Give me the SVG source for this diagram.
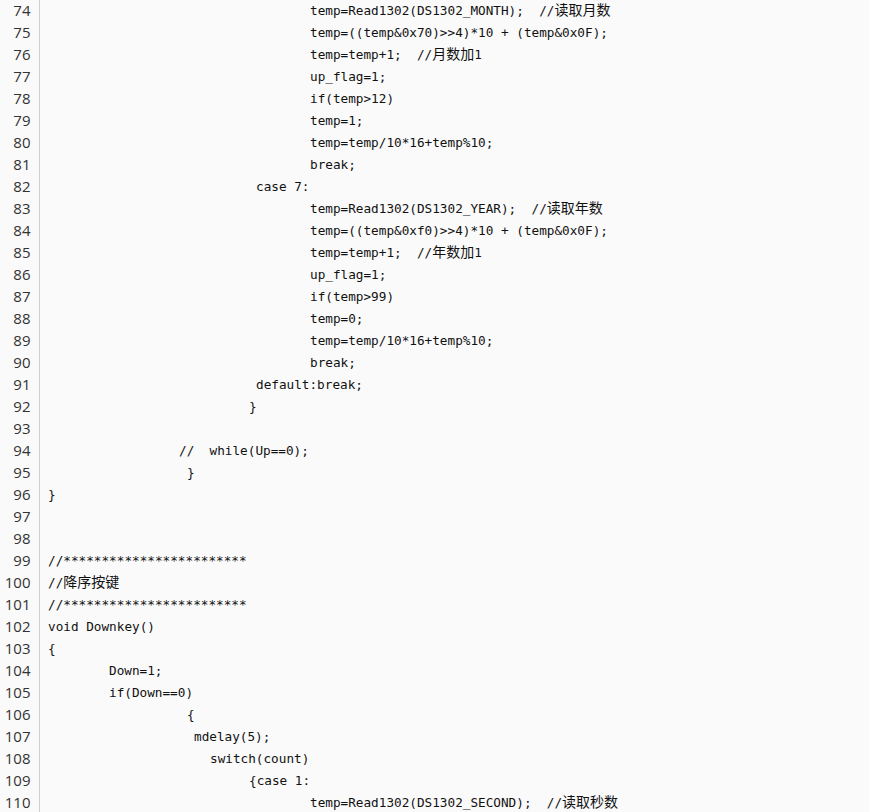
<svg xmlns="http://www.w3.org/2000/svg" width="869" height="812" viewBox="0 0 869 812">
<style>
.bg{fill:#fafafa}
.sep{stroke:#cfcfcf;stroke-width:1}
.ln{font-family:"Open Sans","Liberation Sans",sans-serif;font-size:15px;fill:#333;text-anchor:end}
.code{font-family:"DejaVu Sans Mono","Liberation Mono","Noto Sans CJK SC",monospace;font-size:12.7px;fill:#111;white-space:pre}
.cjk{font-family:"Noto Sans CJK SC",sans-serif;font-size:14px}
</style>
<rect class="bg" x="0" y="0" width="869" height="812"/>
<line class="sep" x1="39.5" y1="0" x2="39.5" y2="812"/>
<g id="line-numbers" transform="translate(0,-0.5)">
<text class="ln" x="30.5" y="16">74</text>
<text class="ln" x="30.5" y="38">75</text>
<text class="ln" x="30.5" y="60">76</text>
<text class="ln" x="30.5" y="82">77</text>
<text class="ln" x="30.5" y="104">78</text>
<text class="ln" x="30.5" y="126">79</text>
<text class="ln" x="30.5" y="148">80</text>
<text class="ln" x="30.5" y="170">81</text>
<text class="ln" x="30.5" y="192">82</text>
<text class="ln" x="30.5" y="214">83</text>
<text class="ln" x="30.5" y="236">84</text>
<text class="ln" x="30.5" y="258">85</text>
<text class="ln" x="30.5" y="280">86</text>
<text class="ln" x="30.5" y="302">87</text>
<text class="ln" x="30.5" y="324">88</text>
<text class="ln" x="30.5" y="346">89</text>
<text class="ln" x="30.5" y="368">90</text>
<text class="ln" x="30.5" y="390">91</text>
<text class="ln" x="30.5" y="412">92</text>
<text class="ln" x="30.5" y="434">93</text>
<text class="ln" x="30.5" y="456">94</text>
<text class="ln" x="30.5" y="478">95</text>
<text class="ln" x="30.5" y="500">96</text>
<text class="ln" x="30.5" y="522">97</text>
<text class="ln" x="30.5" y="544">98</text>
<text class="ln" x="30.5" y="566">99</text>
<text class="ln" x="30.5" y="588">100</text>
<text class="ln" x="30.5" y="610">101</text>
<text class="ln" x="30.5" y="632">102</text>
<text class="ln" x="30.5" y="654">103</text>
<text class="ln" x="30.5" y="676">104</text>
<text class="ln" x="30.5" y="698">105</text>
<text class="ln" x="30.5" y="720">106</text>
<text class="ln" x="30.5" y="742">107</text>
<text class="ln" x="30.5" y="764">108</text>
<text class="ln" x="30.5" y="786">109</text>
<text class="ln" x="30.5" y="808">110</text>
</g>
<g id="code" xml:space="preserve" transform="translate(0,-1)">
<text class="code" x="310" y="16">temp=Read1302(DS1302_MONTH);  //<tspan class="cjk">读取月数</tspan></text>
<text class="code" x="310" y="38">temp=((temp&amp;0x70)&gt;&gt;4)*10 + (temp&amp;0x0F);</text>
<text class="code" x="310" y="60">temp=temp+1;  //<tspan class="cjk">月数加</tspan>1</text>
<text class="code" x="310" y="82">up_flag=1;</text>
<text class="code" x="310" y="104">if(temp&gt;12)</text>
<text class="code" x="310" y="126">temp=1;</text>
<text class="code" x="310" y="148">temp=temp/10*16+temp%10;</text>
<text class="code" x="310" y="170">break;</text>
<text class="code" x="256" y="192">case 7:</text>
<text class="code" x="310" y="214">temp=Read1302(DS1302_YEAR);  //<tspan class="cjk">读取年数</tspan></text>
<text class="code" x="310" y="236">temp=((temp&amp;0xf0)&gt;&gt;4)*10 + (temp&amp;0x0F);</text>
<text class="code" x="310" y="258">temp=temp+1;  //<tspan class="cjk">年数加</tspan>1</text>
<text class="code" x="310" y="280">up_flag=1;</text>
<text class="code" x="310" y="302">if(temp&gt;99)</text>
<text class="code" x="310" y="324">temp=0;</text>
<text class="code" x="310" y="346">temp=temp/10*16+temp%10;</text>
<text class="code" x="310" y="368">break;</text>
<text class="code" x="256" y="390">default:break;</text>
<text class="code" x="249" y="412">}</text>
<text class="code" x="179" y="456">//  while(Up==0);</text>
<text class="code" x="187" y="478">}</text>
<text class="code" x="48" y="500">}</text>
<text class="code" x="48" y="566">//************************</text>
<text class="code" x="48" y="588">//<tspan class="cjk">降序按键</tspan></text>
<text class="code" x="48" y="610">//************************</text>
<text class="code" x="48" y="632">void Downkey()</text>
<text class="code" x="48" y="654">{</text>
<text class="code" x="109" y="676">Down=1;</text>
<text class="code" x="109" y="698">if(Down==0)</text>
<text class="code" x="187" y="720">{</text>
<text class="code" x="194" y="742">mdelay(5);</text>
<text class="code" x="210" y="764">switch(count)</text>
<text class="code" x="249" y="786">{case 1:</text>
<text class="code" x="310" y="808">temp=Read1302(DS1302_SECOND);  //<tspan class="cjk">读取秒数</tspan></text>
</g>
</svg>
